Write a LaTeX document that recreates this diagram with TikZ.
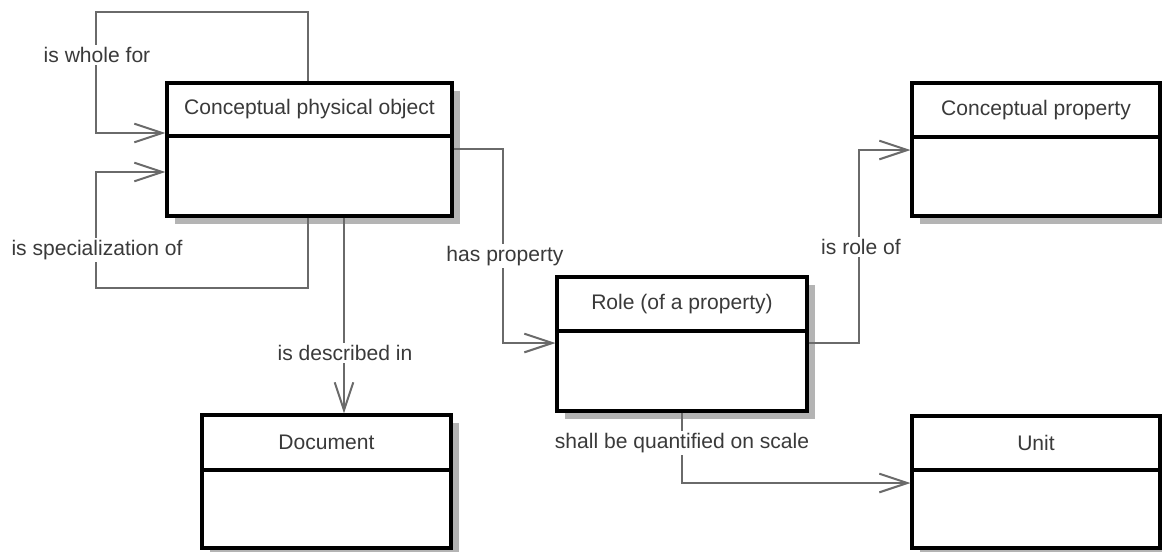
\documentclass[tikz,border=0pt]{standalone}
\usepackage{fontspec}
\setmainfont{Liberation Sans}
\usetikzlibrary{arrows.meta,fit}
\definecolor{linec}{HTML}{6A6A6A}
\definecolor{textc}{HTML}{3A3A3A}
\definecolor{shadowc}{HTML}{B4B4B4}
\tikzset{
  boxframe/.style={draw=black, line width=2.3pt, fill=white, inner sep=0pt, rectangle},
  divline/.style={draw=black, line width=2.3pt},
  titletext/.style={text=textc, font=\fontsize{15.8}{18}\selectfont, inner sep=0pt, anchor=center},
  conn/.style={draw=linec, line width=1.5pt},
  arr/.style={conn, -{Straight Barb[length=21pt,width=14pt,line width=1.5pt]}},
  lbl/.style={text=textc, fill=white, font=\fontsize{15.8}{18}\selectfont, inner sep=1.5pt, anchor=center}
}
\newcommand{\myumlbox}[7]{%
  \fill[shadowc] ({#2+8},{#3+8}) rectangle ({#4+8},{#5+8});
  \node[boxframe, fit={(#2,#3)(#4,#5)}] (#1) {};
  \draw[divline] (#2,#6) -- (#4,#6);
  \node[titletext] (#1t) at ({(#2+#4)/2},{(#3+#6)/2}) {#7};
}
\begin{document}
\begin{tikzpicture}[x=0.75pt,y=-0.75pt]
\useasboundingbox (0,0) rectangle (1162,551);
\fill[white] (0,0) rectangle (1162,551);

% boxes
\myumlbox{cpo}{167}{83}{452}{216}{136}{Conceptual physical object}
\myumlbox{doc}{202}{415}{451}{548}{470}{Document}
\myumlbox{role}{557}{277}{807}{411}{331}{Role (of a property)}
\myumlbox{cp}{912}{83}{1160}{216}{137}{Conceptual property}
\myumlbox{unit}{912}{416}{1160}{548}{470}{Unit}

% is whole for
\draw[arr] (308,0 |- cpo.north) -- (308,12) -- (96,12) -- (96,133) -- (cpo.west |- 0,133);
\node[lbl] (l1) at (97,55) {is whole for};

% is specialization of
\draw[arr] (308,0 |- cpo.south) -- (308,288) -- (96,288) -- (96,172) -- (cpo.west |- 0,172);
\node[lbl] (l2) at (97,250) {is specialization of};

% is described in
\draw[arr] (344,0 |- cpo.south) -- (344,0 |- doc.north);
\node[lbl] (l3) at (345,353) {is described in};

% has property
\draw[arr] (cpo.east |- 0,149) -- (503,149) -- (503,343) -- (role.west |- 0,343);
\node[lbl] (l4) at (505,256) {has property};

% is role of
\draw[arr] (role.east |- 0,343) -- (859,343) -- (859,150) -- (cp.west |- 0,150);
\node[lbl] (l5) at (861,247) {is role of};

% shall be quantified on scale
\draw[arr] (682,0 |- role.south) -- (682,483) -- (unit.west |- 0,483);
\node[lbl] (l6) at (682,443) {shall be quantified on scale};
\end{tikzpicture}
\end{document}
